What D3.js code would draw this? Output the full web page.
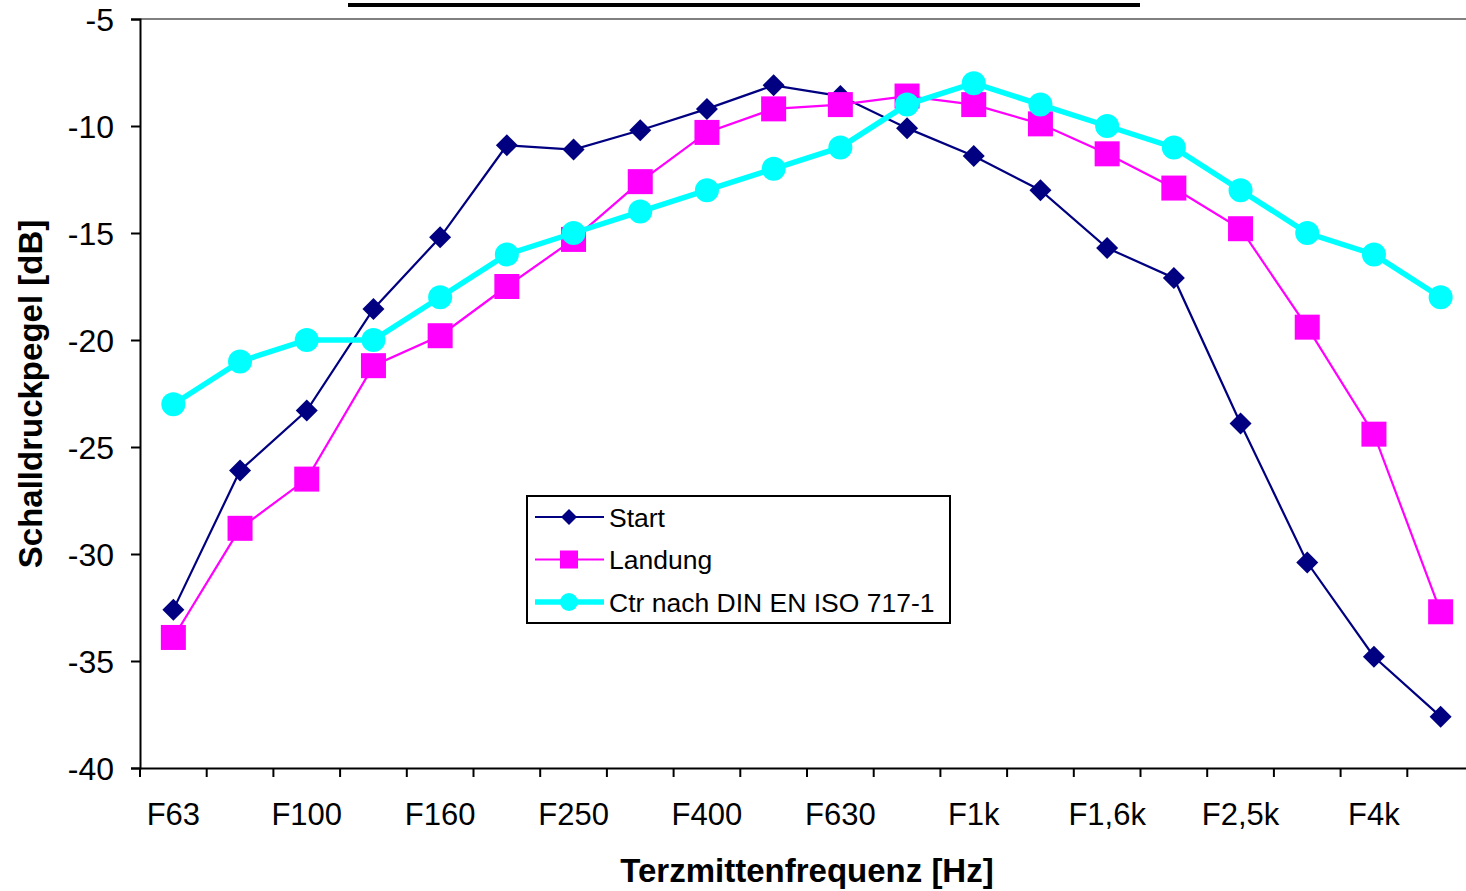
<!DOCTYPE html>
<html><head><meta charset="utf-8">
<script src="https://cdn.jsdelivr.net/npm/d3@7/dist/d3.min.js"></script>
<style>body{margin:0;background:#fff;overflow:hidden}svg{display:block}text{font-family:"Liberation Sans",Arial,sans-serif}</style>
</head><body>
<svg id="c" width="1466" height="891"></svg>
<script>
const categories = ["F63","F80","F100","F125","F160","F200","F250","F315","F400","F500","F630","F800","F1k","F1,25k","F1,6k","F2k","F2,5k","F3,15k","F4k","F5k"];
const tickLabels = ["F63","F100","F160","F250","F400","F630","F1k","F1,6k","F2,5k","F4k"];
const startVals = [-32.6,-26.1,-23.3,-18.55,-15.2,-10.9,-11.1,-10.2,-9.2,-8.1,-8.6,-10.1,-11.4,-13.0,-15.7,-17.1,-23.9,-30.4,-34.8,-37.6];
const landungVals = [-33.9,-28.8,-26.5,-21.2,-19.8,-17.5,-15.3,-12.6,-10.3,-9.2,-9.0,-8.6,-9.0,-9.9,-11.3,-12.9,-14.8,-19.4,-24.4,-32.7];
const ctrVals = [-23,-21,-20,-20,-18,-16,-15,-14,-13,-12,-11,-9,-8,-9,-10,-11,-13,-15,-16,-18];
const yTicks = [-5,-10,-15,-20,-25,-30,-35,-40];

const svg = d3.select("#c");
const L=140, R=1474, T=19, B=768;
const x = d3.scaleBand().domain(categories).range([L,R]);
const y = d3.scaleLinear().domain([-40,-5]).range([B,T]);

// top gray border
svg.append("line").attr("x1",L).attr("x2",R).attr("y1",T).attr("y2",T).attr("stroke","#808080").attr("stroke-width",2);
// black bar above
svg.append("line").attr("x1",348).attr("x2",1140).attr("y1",5).attr("y2",5).attr("stroke","#000").attr("stroke-width",4);

// y axis
const ya = svg.append("g").attr("transform",`translate(${L},0)`).call(d3.axisLeft(y).tickValues(yTicks).tickSize(9).tickFormat(d=>String(d)));
ya.select(".domain").attr("stroke","#000").attr("stroke-width",2);
ya.selectAll(".tick line").attr("stroke","#000").attr("stroke-width",2);
ya.selectAll(".tick text").attr("font-size",32).attr("fill","#000").attr("x",-26).attr("dy","0.36em");

// x axis
const xa = svg.append("g").attr("transform",`translate(0,${B})`).call(d3.axisBottom(x).tickSize(0).tickFormat(d=>tickLabels.includes(d)?d:""));
xa.select(".domain").attr("stroke","#000").attr("stroke-width",2);
xa.selectAll(".tick text").attr("font-size",31).attr("fill","#000").attr("y",35).attr("dy","0.71em");
// tick marks at band boundaries
const bounds = categories.map(c=>x(c)).concat([R]);
svg.append("g").selectAll("line").data(bounds).join("line")
  .attr("x1",d=>d).attr("x2",d=>d).attr("y1",B).attr("y2",B+9).attr("stroke","#000").attr("stroke-width",2);

// axis titles
svg.append("text").attr("x",807).attr("y",882).attr("text-anchor","middle").attr("font-size",33).attr("font-weight","bold").text("Terzmittenfrequenz [Hz]");
svg.append("text").attr("transform","translate(42,394) rotate(-90)").attr("text-anchor","middle").attr("font-size",33).attr("font-weight","bold").text("Schalldruckpegel [dB]");

const cx = c => x(c)+x.bandwidth()/2;
const line = d3.line().x((d,i)=>cx(categories[i])).y(d=>y(d));

const series = [
  {name:"Start", vals:startVals, color:"#000080", w:2.2, shape:"diamond"},
  {name:"Landung", vals:landungVals, color:"#FF00FF", w:2.2, shape:"square"},
  {name:"Ctr nach DIN EN ISO 717-1", vals:ctrVals, color:"#00FFFF", w:5.5, shape:"circle"}
];
function marker(g, shape, color){
  if(shape==="diamond") g.append("path").attr("d","M0,-11L11,0L0,11L-11,0Z").attr("fill",color);
  else if(shape==="square") g.append("rect").attr("x",-12.5).attr("y",-12.5).attr("width",25).attr("height",25).attr("fill",color);
  else g.append("circle").attr("r",12).attr("fill",color);
}
series.forEach(s=>{
  const g = svg.append("g");
  g.append("path").datum(s.vals).attr("d",line).attr("fill","none").attr("stroke",s.color).attr("stroke-width",s.w);
  s.vals.forEach((v,i)=>{
    const m = g.append("g").attr("transform",`translate(${cx(categories[i])},${y(v)})`);
    marker(m,s.shape,s.color);
  });
});

// legend
const lg = svg.append("g");
lg.append("rect").attr("x",527).attr("y",496).attr("width",423).attr("height",127).attr("fill","#fff").attr("stroke","#000").attr("stroke-width",2);
series.forEach((s,i)=>{
  const yy = 517 + i*42.5;
  lg.append("line").attr("x1",535).attr("x2",604).attr("y1",yy).attr("y2",yy).attr("stroke",s.color).attr("stroke-width",s.w);
  const m = lg.append("g").attr("transform",`translate(569,${yy})`);
  if(s.shape==="diamond") m.append("path").attr("d","M0,-8L8,0L0,8L-8,0Z").attr("fill",s.color);
  else if(s.shape==="square") m.append("rect").attr("x",-9).attr("y",-9).attr("width",18).attr("height",18).attr("fill",s.color);
  else m.append("circle").attr("r",9).attr("fill",s.color);
  lg.append("text").attr("x",609).attr("y",yy).attr("dy","0.36em").attr("font-size",26.5).attr("fill","#000").text(s.name);
});
</script>
</body></html>
